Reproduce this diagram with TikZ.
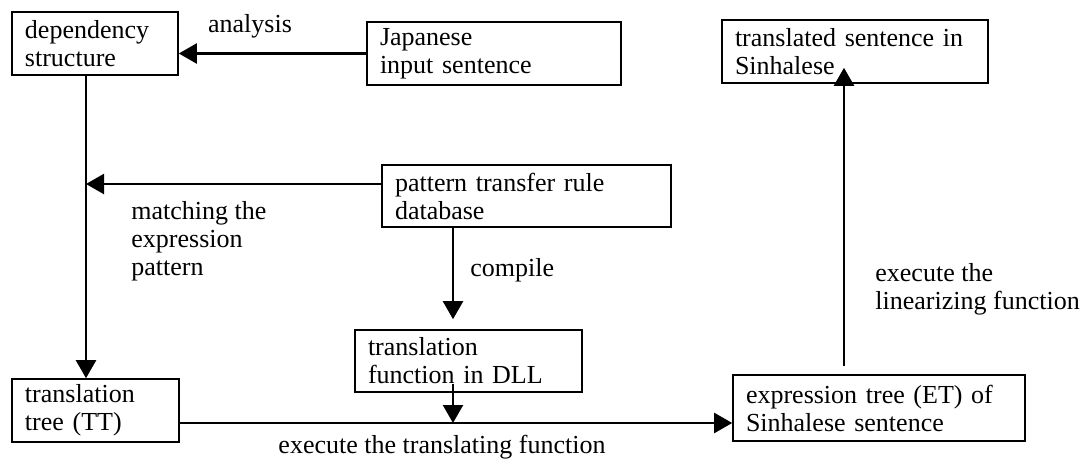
\documentclass[tikz,border=0pt]{standalone}
\usepackage{fontspec}
\setmainfont{Liberation Serif}
\usetikzlibrary{arrows.meta}
\begin{document}
\begin{tikzpicture}[x=0.5pt,y=-0.5pt,
  every node/.style={font=\fontsize{13}{14}\selectfont},
  box/.style={draw,line width=0.8pt,inner xsep=6.5pt,inner ysep=0pt,align=left,anchor=center},
  lbl/.style={inner sep=0pt,align=left},
  arr/.style={line width=1.1pt,-{Triangle[length=9pt,width=10pt]}}]
\useasboundingbox (0,0) rectangle (1088,466);
% boxes
\node[box,text width=70pt,minimum height=31.5pt] (dep) at (95,43.5) {dependency\\structure};
\node[box,text width=114pt,minimum height=31.5pt] (jap) at (494,53.5) {Japanese\\input sentence};
\node[box,text width=120pt,minimum height=31.5pt] (trans) at (855,51.5) {\makebox[\linewidth][s]{translated sentence in}\par Sinhalese};
\node[box,text width=131.5pt,minimum height=31pt] (pat) at (526.5,196) {pattern transfer rule\\database};
\node[box,text width=100.5pt,minimum height=31pt] (dll) at (468.5,361) {translation\\function in DLL};
\node[box,text width=70.5pt,minimum height=31.5pt] (tt) at (95.5,410.5) {translation\\tree (TT)};
\node[box,text width=133pt,minimum height=33pt] (et) at (879,408) {\makebox[\linewidth][s]{expression tree (ET) of}\par Sinhalese sentence};
% labels
\node[lbl] (lan) at (250,26) {analysis};
\node[lbl,anchor=west] (lmatch) at (131,241) {matching the\\expression\\pattern};
\node[lbl,anchor=west] (lcomp) at (470,270) {compile};
\node[lbl,anchor=west] (llin) at (875,289) {execute the\\linearizing function};
\node[lbl] (ltrans) at (442,447) {execute the translating function};
% helper coordinates
\coordinate (cx) at (86,0);
\coordinate (py) at (0,184);
\coordinate (mx) at (453,0);
\coordinate (hy) at (0,423);
\coordinate (vx) at (844,0);
% connectors
\draw[arr] (jap.west) -- (jap.west -| dep.east);
\draw[arr] (dep.south -| cx) -- (tt.north -| cx);
\draw[arr] (pat.west |- py) -- (py -| cx);
\draw[arr] (pat.south -| mx) -- ([yshift=5pt]dll.north -| mx);
\draw[arr] ([yshift=4.5pt]dll.south -| mx) -- (hy -| mx);
\draw[arr] (tt.east |- hy) -- (et.west |- hy);
\draw[arr] ([yshift=4pt]et.north -| vx) -- ([yshift=8pt]trans.south -| vx);
\end{tikzpicture}
\end{document}
